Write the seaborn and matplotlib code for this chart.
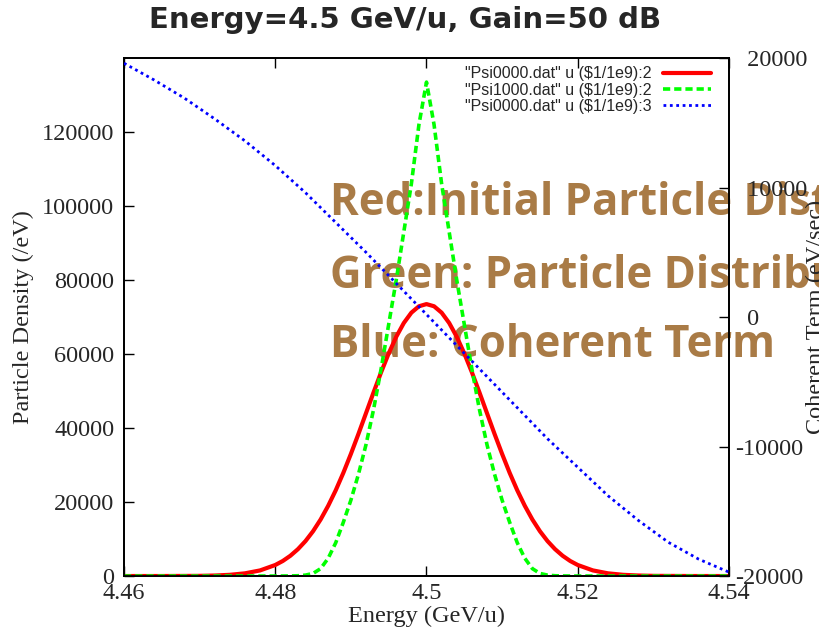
import matplotlib
matplotlib.use("Agg")
import matplotlib.pyplot as plt
import seaborn as sns
import pandas as pd

# energy grid (GeV/u) for the two particle density curves
energy = [4.460, 4.465, 4.470, 4.472, 4.474, 4.476, 4.478,
          4.480, 4.481, 4.482, 4.483, 4.484, 4.485, 4.486, 4.487, 4.488, 4.489,
          4.490, 4.491, 4.492, 4.493, 4.494, 4.495, 4.496, 4.497, 4.498, 4.499,
          4.500,
          4.501, 4.502, 4.503, 4.504, 4.505, 4.506, 4.507, 4.508, 4.509, 4.510,
          4.511, 4.512, 4.513, 4.514, 4.515, 4.516, 4.517, 4.518, 4.519, 4.520,
          4.522, 4.524, 4.526, 4.528, 4.530, 4.535, 4.540]

# red: initial particle distribution
psi0000_c2 = [0, 5, 50, 140, 330, 730, 1520,
              2980, 4070, 5480, 7260, 9450, 12110, 15280, 18980, 23180, 27870,
              32990, 38400, 44010, 49630, 55080, 60160, 64660, 68390, 71180, 72910,
              73500,
              72910, 71180, 68390, 64660, 60160, 55080, 49630, 44010, 38400, 32990,
              27870, 23180, 18980, 15280, 12110, 9450, 7260, 5480, 4070, 2980,
              1520, 730, 330, 140, 50, 5, 0]

# green: particle distribution after cooling
psi1000_c2 = [0, 0, 0, 0, 0, 0, 0,
              0, 10, 30, 80, 250, 700, 2000, 4800, 9000, 14500,
              20500, 27500, 35500, 45000, 56000, 68000, 80000, 93000, 106000, 122000,
              133500,
              122000, 106000, 93000, 80000, 68000, 56000, 45000, 35500, 27500, 20500,
              14500, 9000, 4800, 2000, 700, 250, 80, 30, 10, 0,
              0, 0, 0, 0, 0, 0, 0]

# blue: coherent term (right axis)
energy_b = [4.460, 4.464, 4.468, 4.472, 4.476, 4.480, 4.484, 4.488, 4.492, 4.496,
            4.500, 4.504, 4.508, 4.512, 4.516, 4.520, 4.524, 4.528, 4.532, 4.536, 4.540]
psi0000_c3 = [19600, 18300, 16900, 15300, 13600, 11700, 9600, 7300, 5000, 2600,
              200, -2200, -4600, -7000, -9400, -11600, -13800, -15700, -17400, -18700, -19700]

labels = ['"Psi0000.dat" u ($1/1e9):2', '"Psi1000.dat" u ($1/1e9):2', '"Psi0000.dat" u ($1/1e9):3']
xticks = [4.46, 4.48, 4.50, 4.52, 4.54]
xticklabels = ["4.46", "4.48", "4.5", "4.52", "4.54"]
yticks = [0, 20000, 40000, 60000, 80000, 100000, 120000]
y2ticks = [-20000, -10000, 0, 10000, 20000]

df = pd.DataFrame({"E": energy, "red": psi0000_c2, "green": psi1000_c2})
dfb = pd.DataFrame({"E": energy_b, "blue": psi0000_c3})

sns.set_style("ticks")
plt.rcParams["font.family"] = ["Liberation Serif", "DejaVu Serif"]
plt.rcParams["axes.unicode_minus"] = False

fig = plt.figure(figsize=(8.19, 6.33), dpi=100)
ax = fig.add_axes([0.1514, 0.0900, 0.7387, 0.8183])
ax2 = ax.twinx()
ax.patch.set_alpha(0)
ax2.patch.set_alpha(0)

sns.lineplot(data=df, x="E", y="red", ax=ax, color="#ff0000", lw=3, label=labels[0], zorder=3)
sns.lineplot(data=df, x="E", y="green", ax=ax, color="#00ff00", lw=2.6,
             linestyle=(0, (2.0, 1.1)), label=labels[1], zorder=3)
sns.lineplot(data=dfb, x="E", y="blue", ax=ax2, color="#0000ff", lw=2.0,
             linestyle=(0, (1.0, 1.3)), label=labels[2], zorder=3)

ax.set_xlim(4.46, 4.54)
ax.set_ylim(0, 140000)
ax2.set_ylim(-20000, 20000)
ax.set_xticks(xticks)
ax.set_xticklabels(xticklabels)
ax.set_yticks(yticks)
ax.set_yticklabels([str(v) for v in yticks])
ax2.set_yticks(y2ticks)
# gnuplot leaves room for the minus sign on the right axis
ax2.set_yticklabels([str(v) if v < 0 else "\u2002" + str(v) for v in y2ticks])

ax.tick_params(direction="in", length=7, width=1, labelsize=17.5, top=True, right=False, color="black")
ax.tick_params(axis="y", pad=7)
ax.tick_params(axis="x", pad=5)
ax2.tick_params(direction="in", length=7, width=1, labelsize=17.5, pad=4.5, color="black")
for a in (ax, ax2):
    for s in a.spines.values():
        s.set_linewidth(1.3)
        s.set_color("black")
        s.set_visible(True)

ax.set_xlabel("Energy (GeV/u)", fontsize=17.5)
ax.set_ylabel("Particle Density (/eV)", fontsize=17.5)
ax2.set_ylabel("Coherent Term (eV/sec)", fontsize=17.5)
ax.xaxis.set_label_coords(0.5, -0.057)
ax.yaxis.set_label_coords(-0.148, 0.5)
ax2.yaxis.set_label_coords(1.127, 0.5)

if ax.get_legend() is not None:
    ax.get_legend().remove()
h1, l1 = ax.get_legend_handles_labels()
h2, l2 = ax2.get_legend_handles_labels()
ax2.legend(h1 + h2, l1 + l2, loc="upper right", bbox_to_anchor=(0.970, 0.984),
           frameon=False, markerfirst=False, handlelength=3.0, handletextpad=0.7,
           labelspacing=0.08, borderpad=0, borderaxespad=0,
           prop={"family": "Liberation Sans", "size": 11.5})

fig.text(0.4945, 0.969, "Energy=4.5 GeV/u, Gain=50 dB", ha="center", va="center",
         fontsize=21, fontweight="bold", family="DejaVu Sans")

brown = "#a97b46"
notes = ["Red:Initial Particle Distribution", "Green: Particle Distribution", "Blue: Coherent Term"]
for txt, yy in zip(notes, [0.6603, 0.545, 0.436]):
    fig.text(0.403, yy, txt, ha="left", va="baseline", fontsize=31.5, fontweight="bold",
             family="Open Sans", color=brown, zorder=-1)

fig.savefig("out.png", dpi=100)
